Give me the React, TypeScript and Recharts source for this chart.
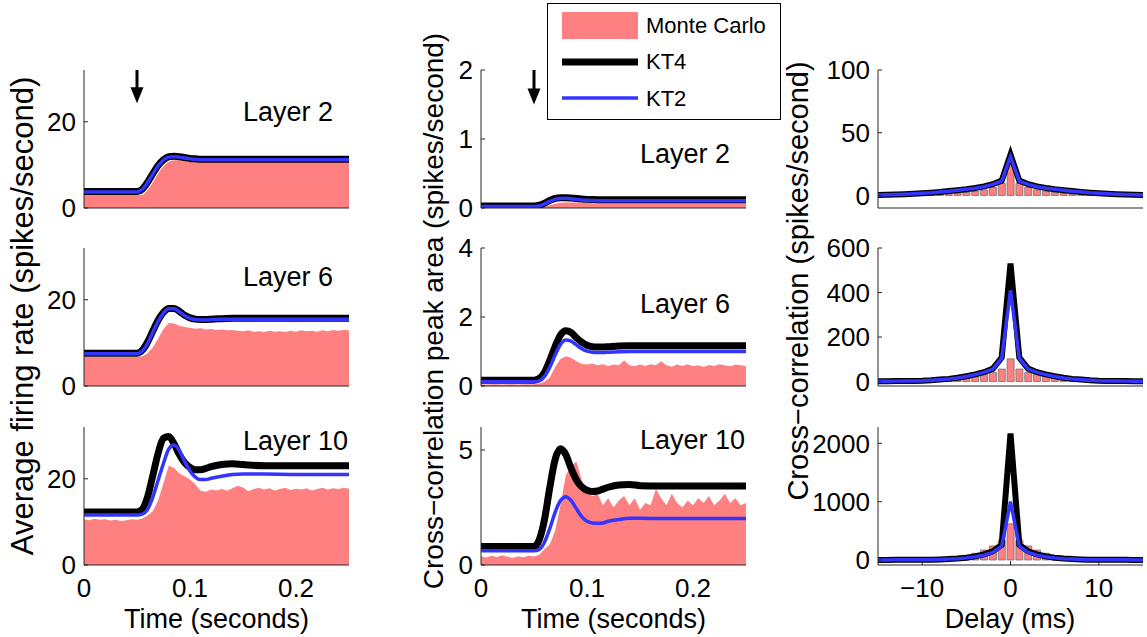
import { Area, Bar, ComposedChart, Line, ReferenceLine, XAxis, YAxis } from 'recharts';

const FONT = '"Liberation Sans", Arial, Helvetica, sans-serif';
const PINK = '#ff8080';
const BLUE = '#3434ff';
const AXIS = '#262626';

const PLOT_W = 265;
const PLOT_H = 138;
const Y_AXIS_W = 80;
const PAD_TOP = 22;
const PAD_RIGHT = 12;

const colLeft = [84, 481, 878];
const rowTop = [70, 248, 427];

// model time points (seconds)
const ktTime = [0, 0.045, 0.05, 0.055, 0.06, 0.065, 0.07, 0.075, 0.08, 0.085, 0.09, 0.095, 0.1, 0.105, 0.11, 0.115, 0.12, 0.13, 0.14, 0.15, 0.17, 0.2, 0.25];

// Monte Carlo histogram bins (seconds)
const binTime = [
  0, 0.005, 0.01, 0.015, 0.02, 0.025, 0.03, 0.035, 0.04, 0.045, 0.05,
  0.055, 0.06, 0.065, 0.07, 0.075, 0.08, 0.085, 0.09, 0.095, 0.1,
  0.105, 0.11, 0.115, 0.12, 0.125, 0.13, 0.135, 0.14, 0.145, 0.15,
  0.155, 0.16, 0.165, 0.17, 0.175, 0.18, 0.185, 0.19, 0.195, 0.2,
  0.205, 0.21, 0.215, 0.22, 0.225, 0.23, 0.235, 0.24, 0.245, 0.25,
];

// firing rate, layer 2
const rateL2Mc = [3.0, 3.0, 3.0, 3.1, 4.2, 6.0, 8.0, 9.7, 10.7, 11.1, 11.1, 11.0, 10.9, 10.8, 10.7, 10.7, 10.7, 10.7, 10.7, 10.7, 10.7, 10.7, 10.7];
const rateL2Kt4 = [3.8, 3.8, 3.8, 4.4, 6.0, 8.0, 9.9, 11.2, 11.9, 12.0, 11.9, 11.7, 11.5, 11.4, 11.3, 11.3, 11.3, 11.3, 11.3, 11.3, 11.3, 11.3, 11.3];
const rateL2Kt2 = [3.7, 3.7, 3.7, 4.3, 5.9, 7.9, 9.8, 11.1, 11.8, 11.9, 11.8, 11.6, 11.4, 11.3, 11.2, 11.2, 11.2, 11.2, 11.2, 11.2, 11.2, 11.2, 11.2];

// firing rate, layer 6
const rateL6Mc = [
  6.7, 6.8, 6.7, 6.8, 6.7, 6.7, 6.8, 6.7, 6.8, 6.7, 6.8,
  6.9, 7.6, 9.0, 11.0, 13.2, 14.6, 14.5, 14.0, 13.7, 13.5,
  13.3, 13.4, 13.1, 13.2, 13.0, 13.1, 12.9, 13.0, 12.8, 12.7,
  12.9, 12.6, 12.7, 12.5, 12.8, 12.6, 12.7, 12.5, 12.8, 12.6,
  12.9, 12.7, 12.8, 12.6, 12.9, 12.7, 13.0, 12.8, 13.0, 12.9,
];
const rateL6Kt4 = [7.6, 7.6, 7.6, 8.3, 10.2, 12.8, 15.3, 17.1, 18.0, 18.0, 17.3, 16.4, 15.8, 15.5, 15.4, 15.4, 15.5, 15.6, 15.7, 15.7, 15.7, 15.7, 15.7];
const rateL6Kt2 = [7.5, 7.5, 7.5, 8.1, 9.9, 12.5, 15.0, 16.9, 17.9, 17.9, 17.2, 16.3, 15.7, 15.4, 15.3, 15.3, 15.4, 15.5, 15.5, 15.5, 15.5, 15.5, 15.5];

// firing rate, layer 10
const rateL10Mc = [
  10.6, 10.4, 10.7, 10.5, 10.6, 10.3, 10.5, 10.2, 10.4, 10.6, 10.5,
  10.8, 11.5, 12.5, 15.0, 19.0, 23.0, 22.5, 21.2, 20.6, 19.8,
  18.7, 17.2, 17.0, 17.5, 17.3, 17.6, 17.2, 17.8, 18.4, 18.0,
  17.1, 17.6, 17.9, 17.5, 17.8, 17.3, 17.6, 17.9, 17.4, 17.7,
  17.5, 17.8, 17.3, 17.6, 17.9, 17.5, 17.8, 17.6, 17.9, 17.7,
];
const rateL10Kt4 = [12.3, 12.3, 12.3, 12.9, 15.8, 20.8, 26.0, 29.4, 29.8, 28.1, 25.6, 23.7, 22.6, 22.1, 22.1, 22.4, 22.8, 23.3, 23.5, 23.3, 23.0, 23.0, 23.0];
const rateL10Kt2 = [11.6, 11.6, 11.6, 11.8, 12.9, 15.8, 19.7, 23.6, 26.9, 27.8, 26.5, 24.0, 21.8, 20.4, 19.8, 19.8, 20.1, 20.6, 21.0, 21.1, 21.1, 21.0, 21.0];

// cross-correlation peak area, layer 2
const areaL2Mc = [0.01, 0.01, 0.01, 0.01, 0.02, 0.04, 0.06, 0.075, 0.08, 0.08, 0.078, 0.075, 0.072, 0.07, 0.07, 0.07, 0.07, 0.07, 0.07, 0.07, 0.07, 0.07, 0.07];
const areaL2Kt4 = [0.03, 0.03, 0.03, 0.04, 0.07, 0.11, 0.14, 0.15, 0.15, 0.145, 0.137, 0.13, 0.125, 0.122, 0.12, 0.12, 0.12, 0.12, 0.12, 0.12, 0.12, 0.12, 0.12];
const areaL2Kt2 = [0.02, 0.02, 0.02, 0.03, 0.06, 0.095, 0.125, 0.138, 0.14, 0.135, 0.125, 0.117, 0.112, 0.108, 0.106, 0.105, 0.105, 0.105, 0.105, 0.105, 0.105, 0.105, 0.105];

// cross-correlation peak area, layer 6
const areaL6Mc = [
  0.05, 0.04, 0.05, 0.05, 0.04, 0.05, 0.05, 0.04, 0.05, 0.05, 0.05,
  0.07, 0.12, 0.25, 0.55, 0.78, 0.86, 0.82, 0.72, 0.64, 0.62,
  0.65, 0.6, 0.63, 0.58, 0.62, 0.6, 0.74, 0.6, 0.57, 0.62,
  0.58, 0.63, 0.6, 0.72, 0.6, 0.56, 0.62, 0.58, 0.63, 0.57,
  0.6, 0.55, 0.61, 0.58, 0.63, 0.6, 0.57, 0.62, 0.6, 0.58,
];
const areaL6Kt4 = [0.17, 0.17, 0.17, 0.22, 0.4, 0.75, 1.15, 1.48, 1.6, 1.55, 1.4, 1.27, 1.18, 1.14, 1.13, 1.13, 1.14, 1.16, 1.17, 1.17, 1.17, 1.17, 1.17];
const areaL6Kt2 = [0.12, 0.12, 0.12, 0.15, 0.28, 0.55, 0.9, 1.2, 1.33, 1.3, 1.19, 1.08, 1.01, 0.98, 0.97, 0.97, 0.98, 0.99, 1.0, 1.0, 1.0, 1.0, 1.0];

// cross-correlation peak area, layer 10
const areaL10Mc = [
  0.38, 0.33, 0.4, 0.35, 0.42, 0.36, 0.3, 0.38, 0.34, 0.4, 0.37,
  0.45, 0.7, 0.9, 1.5, 2.6, 3.9, 4.3, 4.5, 3.7, 3.2,
  3.0, 3.1, 2.6, 2.9, 2.5, 2.8, 3.0, 2.6, 2.9, 2.4,
  2.7, 2.6, 3.3, 2.9, 2.6, 3.1, 2.7, 2.5, 2.8, 2.6,
  2.9, 2.7, 3.0, 2.6, 2.8, 3.1, 2.7, 2.9, 2.6, 2.7,
];
const areaL10Kt4 = [0.8, 0.8, 0.8, 1.1, 2.0, 3.4, 4.6, 5.05, 4.8, 4.2, 3.7, 3.4, 3.25, 3.2, 3.22, 3.3, 3.38, 3.48, 3.5, 3.45, 3.43, 3.43, 3.43];
const areaL10Kt2 = [0.62, 0.62, 0.62, 0.68, 1.0, 1.6, 2.3, 2.8, 2.97, 2.8, 2.45, 2.1, 1.9, 1.83, 1.81, 1.83, 1.9, 1.98, 2.03, 2.03, 2.02, 2.02, 2.02];

// cross-correlogram delays (ms)
const delays = [-15, -14, -13, -12, -11, -10, -9, -8, -7, -6, -5, -4, -3, -2, -1, 0, 1, 2, 3, 4, 5, 6, 7, 8, 9, 10, 11, 12, 13, 14, 15];

const ccL2Mc = [0.1, 0.2, 0.2, 0.3, 0.4, 0.5, 0.7, 0.9, 1.2, 1.7, 2.3, 3.2, 4.5, 6.5, 9.5, 27, 9.5, 6.5, 4.5, 3.2, 2.3, 1.7, 1.2, 0.9, 0.7, 0.5, 0.4, 0.3, 0.2, 0.2, 0.1];
const ccL2Kt4 = [0.4, 0.5, 0.7, 1.0, 1.3, 1.7, 2.2, 2.8, 3.5, 4.2, 5.0, 6.0, 7.2, 9.0, 11.8, 32.5, 11.8, 9.0, 7.2, 6.0, 5.0, 4.2, 3.5, 2.8, 2.2, 1.7, 1.3, 1.0, 0.7, 0.5, 0.4];
const ccL2Kt2 = [0.4, 0.5, 0.7, 1.0, 1.3, 1.7, 2.1, 2.7, 3.4, 4.1, 4.9, 5.8, 7.0, 8.8, 11.4, 31, 11.4, 8.8, 7.0, 5.8, 4.9, 4.1, 3.4, 2.7, 2.1, 1.7, 1.3, 1.0, 0.7, 0.5, 0.4];

const ccL6Mc = [0.5, 0.5, 1, 1, 1.5, 2, 3, 5, 7, 11, 17, 24, 32, 41, 56, 102, 56, 41, 32, 24, 17, 11, 7, 5, 3, 2, 1.5, 1, 1, 0.5, 0.5];
const ccL6Kt4 = [1.2, 1.5, 2, 2.5, 3, 4, 6, 9, 12, 17, 24, 32, 42, 58, 108, 530, 108, 58, 42, 32, 24, 17, 12, 9, 6, 4, 3, 2.5, 2, 1.5, 1.2];
const ccL6Kt2 = [1.1, 1.4, 1.9, 2.4, 2.9, 3.8, 5.8, 8.5, 11.5, 16, 23, 31, 41, 56, 104, 410, 104, 56, 41, 31, 23, 16, 11.5, 8.5, 5.8, 3.8, 2.9, 2.4, 1.9, 1.4, 1.1];

const ccL10Mc = [2, 2, 3, 4, 6, 9, 13, 20, 30, 48, 75, 115, 170, 240, 340, 620, 340, 240, 170, 115, 75, 48, 30, 20, 13, 9, 6, 4, 3, 2, 2];
const ccL10Kt4 = [1, 1, 2, 2, 3, 4, 6, 10, 16, 25, 40, 62, 95, 150, 260, 2170, 260, 150, 95, 62, 40, 25, 16, 10, 6, 4, 3, 2, 2, 1, 1];
const ccL10Kt2 = [1, 1, 2, 2, 3, 4, 6, 9, 15, 23, 36, 55, 82, 130, 235, 1000, 235, 130, 82, 55, 36, 23, 15, 9, 6, 4, 3, 2, 2, 1, 1];

const tickStyle = { fontSize: 26, fill: '#000', fontFamily: FONT };

const toSeries = (ts: number[], vs: number[]) => ts.map((t, i) => ({ t, v: vs[i] }));

const StimulusArrow = (props: any) => {
  const { x1, y1, y2 } = props;
  return (
    <g>
      <line x1={x1} y1={y1} x2={x1} y2={y2 - 12} stroke="#000" strokeWidth={3} />
      <polygon points={`${x1 - 6.5},${y2 - 16} ${x1 + 6.5},${y2 - 16} ${x1},${y2}`} fill="#000" />
    </g>
  );
};

interface TimePanelProps {
  col: number;
  row: number;
  yMax: number;
  yTicks: number[];
  mcTime: number[];
  mc: number[];
  kt4: number[];
  kt2: number[];
  arrowTip?: number;
}

function TimePanel({ col, row, yMax, yTicks, mcTime, mc, kt4, kt2, arrowTip }: TimePanelProps) {
  const bottom = row === 2;
  const xh = bottom ? 50 : 16;
  return (
    <div style={{ position: 'absolute', left: colLeft[col] - Y_AXIS_W, top: rowTop[row] - PAD_TOP }}>
      <ComposedChart
        width={Y_AXIS_W + PLOT_W + PAD_RIGHT}
        height={PAD_TOP + PLOT_H + xh}
        margin={{ top: PAD_TOP, right: PAD_RIGHT, bottom: 0, left: 0 }}
      >
        <XAxis
          type="number"
          dataKey="t"
          domain={[0, 0.25]}
          ticks={[0, 0.1, 0.2]}
          interval={0}
          height={xh}
          tick={bottom ? tickStyle : false}
          tickLine={false}
          tickSize={-4}
          tickMargin={18}
          axisLine={{ stroke: AXIS }}
          allowDataOverflow
        />
        <YAxis
          type="number"
          domain={[0, yMax]}
          ticks={yTicks}
          interval={0}
          width={Y_AXIS_W}
          tick={tickStyle}
          tickLine={{ stroke: AXIS }}
          tickSize={-4}
          tickMargin={12}
          axisLine={{ stroke: AXIS }}
          allowDataOverflow
        />
        <Area
          data={toSeries(mcTime, mc)}
          dataKey="v"
          type={mcTime === ktTime ? 'monotone' : 'linear'}
          fill={PINK}
          fillOpacity={1}
          stroke="none"
          isAnimationActive={false}
        />
        <Line data={toSeries(ktTime, kt4)} dataKey="v" type="monotone" stroke="#000" strokeWidth={7} dot={false} activeDot={false} isAnimationActive={false} />
        <Line data={toSeries(ktTime, kt2)} dataKey="v" type="monotone" stroke={BLUE} strokeWidth={3.5} dot={false} activeDot={false} isAnimationActive={false} />
        {arrowTip !== undefined && (
          <ReferenceLine
            segment={[{ x: 0.05, y: yMax }, { x: 0.05, y: arrowTip }]}
            ifOverflow="visible"
            shape={StimulusArrow}
          />
        )}
      </ComposedChart>
    </div>
  );
}

interface DelayPanelProps {
  row: number;
  yDomain: [number, number];
  yTicks: number[];
  mc: number[];
  kt4: number[];
  kt2: number[];
}

function DelayPanel({ row, yDomain, yTicks, mc, kt4, kt2 }: DelayPanelProps) {
  const bottom = row === 2;
  const xh = bottom ? 50 : 16;
  const data = delays.map((d, i) => ({ d, mc: mc[i], kt4: kt4[i], kt2: kt2[i] }));
  return (
    <div style={{ position: 'absolute', left: colLeft[2] - Y_AXIS_W, top: rowTop[row] - PAD_TOP }}>
      <ComposedChart
        data={data}
        width={Y_AXIS_W + PLOT_W + PAD_RIGHT}
        height={PAD_TOP + PLOT_H + xh}
        margin={{ top: PAD_TOP, right: PAD_RIGHT, bottom: 0, left: 0 }}
      >
        <XAxis
          type="number"
          dataKey="d"
          domain={[-15, 15]}
          ticks={[-10, 0, 10]}
          interval={0}
          height={xh}
          tick={bottom ? tickStyle : false}
          tickFormatter={(v: number) => (v < 0 ? `\u2212${-v}` : `${v}`)}
          tickLine={{ stroke: AXIS }}
          tickSize={-4}
          tickMargin={18}
          axisLine={{ stroke: AXIS }}
          allowDataOverflow
        />
        <YAxis
          type="number"
          domain={yDomain}
          ticks={yTicks}
          interval={0}
          width={Y_AXIS_W}
          tick={tickStyle}
          tickLine={{ stroke: AXIS }}
          tickSize={-4}
          tickMargin={12}
          axisLine={{ stroke: AXIS }}
          allowDataOverflow
        />
        <Bar dataKey="mc" barSize={7} fill={PINK} stroke="#707070" strokeWidth={0.8} isAnimationActive={false} />
        <Line dataKey="kt4" type="linear" stroke="#000" strokeWidth={6} dot={false} activeDot={false} isAnimationActive={false} />
        <Line dataKey="kt2" type="linear" stroke={BLUE} strokeWidth={3.5} dot={false} activeDot={false} isAnimationActive={false} />
      </ComposedChart>
    </div>
  );
}

function Overlay() {
  return (
    <svg
      width={1147}
      height={637}
      style={{ position: 'absolute', left: 0, top: 0, pointerEvents: 'none', fontFamily: FONT }}
    >
      <g fontSize={27} fill="#000">
        <text x={243} y={121}>Layer 2</text>
        <text x={243} y={286}>Layer 6</text>
        <text x={243} y={450}>Layer 10</text>
        <text x={640} y={163}>Layer 2</text>
        <text x={640} y={313}>Layer 6</text>
        <text x={640} y={449}>Layer 10</text>
      </g>
      <g fontSize={27} fill="#000" textAnchor="middle">
        <text x={216.5} y={628}>Time (seconds)</text>
        <text x={613.5} y={628}>Time (seconds)</text>
        <text x={1010} y={628}>Delay (ms)</text>
      </g>
      <g fill="#000" textAnchor="middle">
        <text fontSize={31} transform="translate(33,316) rotate(-90)">Average firing rate (spikes/second)</text>
        <text fontSize={28} transform="translate(443,311) rotate(-90)">Cross{'\u2212'}correlation peak area (spikes/second)</text>
        <text fontSize={29} transform="translate(808,281) rotate(-90)">Cross{'\u2212'}correlation (spikes/second)</text>
      </g>
      <g>
        <rect x={547.5} y={3.5} width={233} height={116} fill="#fff" stroke="#000" strokeWidth={1} />
        <rect x={562} y={12} width={76} height={27} fill={PINK} />
        <line x1={562} y1={62} x2={638} y2={62} stroke="#000" strokeWidth={7} />
        <line x1={562} y1={98} x2={638} y2={98} stroke={BLUE} strokeWidth={3.5} />
        <g fontSize={22} fill="#000">
          <text x={646} y={33}>Monte Carlo</text>
          <text x={646} y={69}>KT4</text>
          <text x={646} y={106}>KT2</text>
        </g>
      </g>
    </svg>
  );
}

export default function App() {
  return (
    <div style={{ position: 'absolute', left: 0, top: 0, width: 1147, height: 637, background: '#fff', overflow: 'hidden', fontFamily: FONT }}>
      <TimePanel col={0} row={0} yMax={32} yTicks={[0, 20]} mcTime={ktTime} mc={rateL2Mc} kt4={rateL2Kt4} kt2={rateL2Kt2} arrowTip={24.3} />
      <TimePanel col={0} row={1} yMax={32} yTicks={[0, 20]} mcTime={binTime} mc={rateL6Mc} kt4={rateL6Kt4} kt2={rateL6Kt2} />
      <TimePanel col={0} row={2} yMax={32} yTicks={[0, 20]} mcTime={binTime} mc={rateL10Mc} kt4={rateL10Kt4} kt2={rateL10Kt2} />
      <TimePanel col={1} row={0} yMax={2} yTicks={[0, 1, 2]} mcTime={ktTime} mc={areaL2Mc} kt4={areaL2Kt4} kt2={areaL2Kt2} arrowTip={1.5} />
      <TimePanel col={1} row={1} yMax={4} yTicks={[0, 2, 4]} mcTime={binTime} mc={areaL6Mc} kt4={areaL6Kt4} kt2={areaL6Kt2} />
      <TimePanel col={1} row={2} yMax={6} yTicks={[0, 5]} mcTime={binTime} mc={areaL10Mc} kt4={areaL10Kt4} kt2={areaL10Kt2} />
      <DelayPanel row={0} yDomain={[-10, 100]} yTicks={[0, 50, 100]} mc={ccL2Mc} kt4={ccL2Kt4} kt2={ccL2Kt2} />
      <DelayPanel row={1} yDomain={[-20, 600]} yTicks={[0, 200, 400, 600]} mc={ccL6Mc} kt4={ccL6Kt4} kt2={ccL6Kt2} />
      <DelayPanel row={2} yDomain={[-86, 2280]} yTicks={[0, 1000, 2000]} mc={ccL10Mc} kt4={ccL10Kt4} kt2={ccL10Kt2} />
      <Overlay />
    </div>
  );
}
